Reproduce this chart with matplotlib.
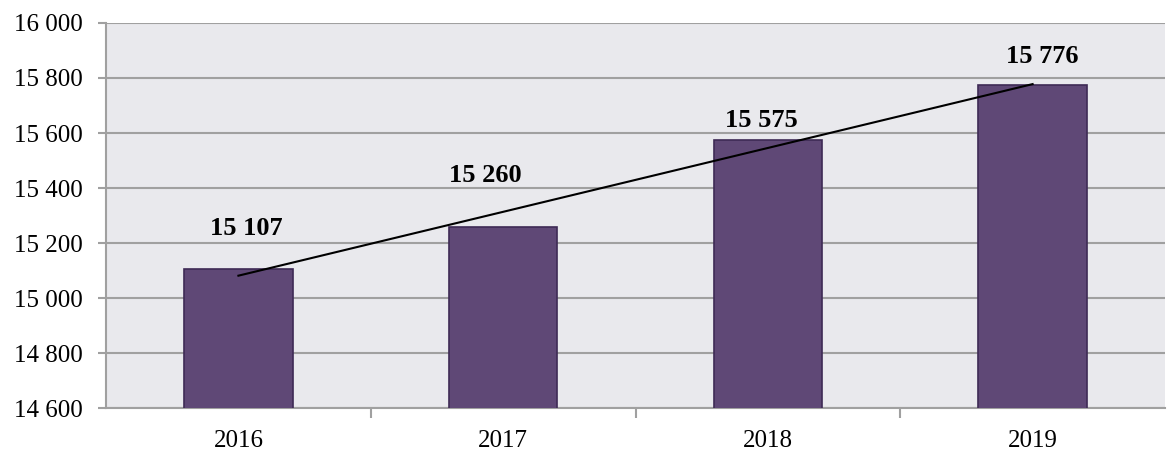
import numpy as np
import matplotlib
matplotlib.use("Agg")
import matplotlib.pyplot as plt
from matplotlib.ticker import FuncFormatter, FixedLocator

years = ["2016", "2017", "2018", "2019"]
values = [15107, 15260, 15575, 15776]
y_ticks = [14600, 14800, 15000, 15200, 15400, 15600, 15800, 16000]

plt.rcParams["font.family"] = ["Liberation Serif", "DejaVu Serif"]

fig = plt.figure(figsize=(11.68, 4.5), dpi=100)
ax = fig.add_axes([0.0908, 0.0933, 0.9066, 0.8556])
ax.set_facecolor("#E9E9ED")

x = np.arange(len(years))
ax.bar(x, values, width=0.41, color="#5F4876", edgecolor="#3E2A55",
       linewidth=1.2, zorder=3)

# linear trend line over the bars
slope, intercept = np.polyfit(x, values, 1)
ax.plot(x, slope * x + intercept, color="black", linewidth=1.5, zorder=4)

# value labels (offsets in points, as placed in the original)
label_offsets = [(6, 29), (-13, 37), (-5, 14), (7, 20)]
for xi, v, (dx, dy) in zip(x, values, label_offsets):
    ax.annotate(f"{v:,}".replace(",", " "), (xi, v), xytext=(dx, dy),
                textcoords="offset points", ha="center", va="center",
                fontsize=19, fontweight="bold", zorder=5)

ax.set_ylim(y_ticks[0], y_ticks[-1])
ax.set_xlim(-0.5, len(years) - 0.5)
ax.set_yticks(y_ticks)
ax.yaxis.set_major_formatter(FuncFormatter(lambda v, p: f"{int(v):,}".replace(",", " ")))
ax.grid(axis="y", color="#A0A0A0", linewidth=1.5, zorder=1)

ax.set_xticks(x)
ax.set_xticklabels(years)
ax.xaxis.set_minor_locator(FixedLocator(np.arange(0.5, len(years) - 0.5, 1)))
ax.tick_params(axis="x", which="major", length=0, pad=16, labelsize=18)
ax.tick_params(axis="x", which="minor", length=7, width=1.5, color="#A0A0A0")
ax.tick_params(axis="y", length=6, width=1.5, color="#A0A0A0", pad=11, labelsize=18)

for side in ["top", "right"]:
    ax.spines[side].set_visible(False)
ax.spines["left"].set_color("#A0A0A0")
ax.spines["left"].set_linewidth(1.5)
ax.spines["bottom"].set_color("#A0A0A0")
ax.spines["bottom"].set_linewidth(1.5)

fig.savefig("out.png", dpi=100)
